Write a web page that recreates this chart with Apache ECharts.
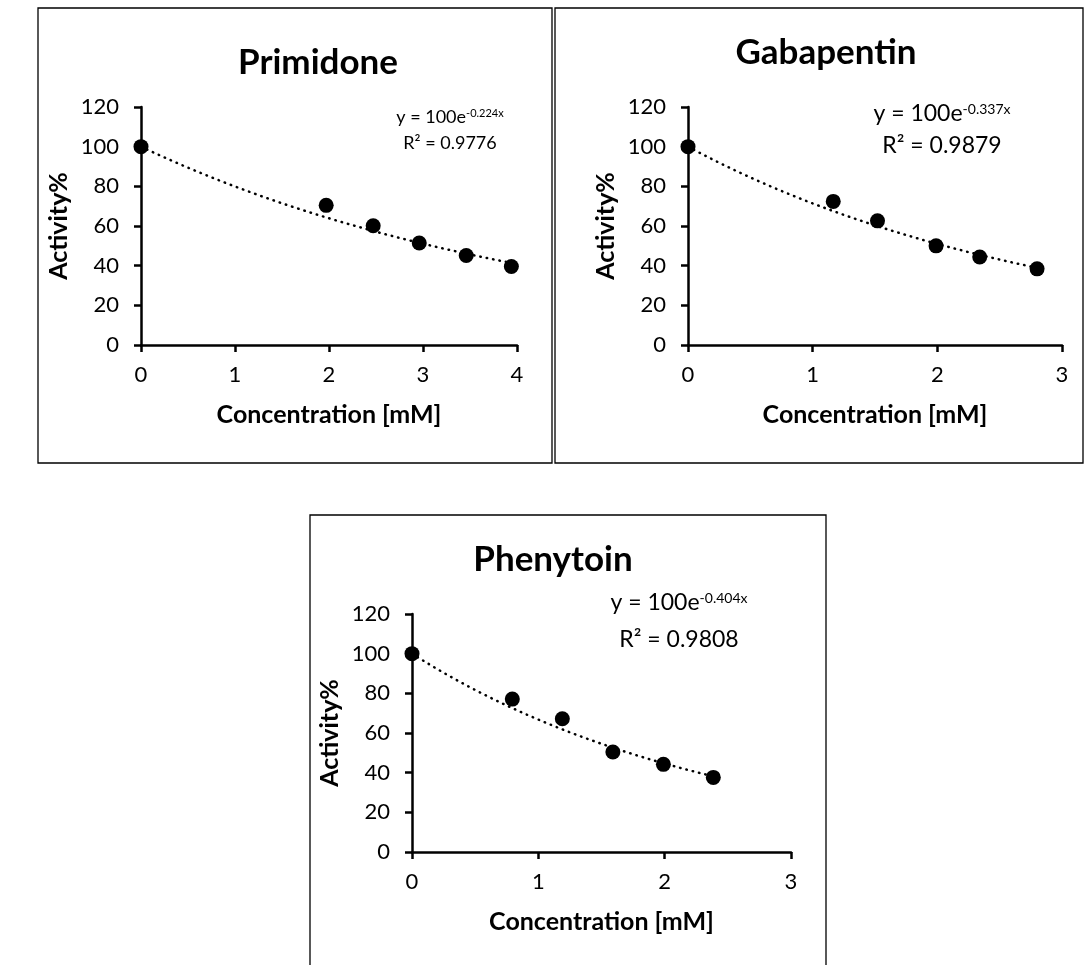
<!DOCTYPE html>
<html>
<head>
<meta charset="utf-8">
<script src="https://cdn.jsdelivr.net/npm/echarts@6/dist/echarts.min.js"></script>
<style>
html,body{margin:0;padding:0;background:#fff;}
#chart{width:1085px;height:965px;}
</style>
</head>
<body>
<div id="chart"></div>
<script>
// ---- data ----
const drugNames = ['Primidone', 'Gabapentin', 'Phenytoin'];
const primidoneConc = [0, 1.97, 2.47, 2.96, 3.46, 3.94];
const primidoneAct = [100, 70.4, 60.1, 51.4, 45.1, 39.6];
const gabapentinConc = [0, 1.165, 1.52, 1.99, 2.34, 2.80];
const gabapentinAct = [100, 72.4, 62.6, 50.0, 44.4, 38.4];
const phenytoinConc = [0, 0.794, 1.19, 1.59, 1.99, 2.385];
const phenytoinAct = [100, 77.1, 67.2, 50.4, 44.2, 37.6];
const trendA = [100, 100, 100];
const trendK = [0.224, 0.337, 0.404];
const trendR2 = ['0.9776', '0.9879', '0.9808'];
const xMaxes = [4, 3, 3];
const yTicks = [0, 20, 40, 60, 80, 100, 120];

const FONT = 'Lato';
const concs = [primidoneConc, gabapentinConc, phenytoinConc];
const acts = [primidoneAct, gabapentinAct, phenytoinAct];

// layout (pixels)
const grids = [
  {left: 141, top: 107, width: 376, height: 238},
  {left: 688, top: 107, width: 374, height: 238},
  {left: 412, top: 614, width: 379, height: 238}
];
const titlePos = [[318, 63], [826, 53], [553, 560]];
const eqPos = [[450, 117, 143, 18], [942, 114, 146, 23], [679, 603, 640, 23]];
const boxes = [[38, 8, 514, 455], [555, 8, 528, 455], [310, 515, 516, 460]];

const chart = echarts.init(document.getElementById('chart'), null, {renderer: 'canvas'});

const gridArr = [], xAxes = [], yAxes = [], series = [], graphics = [];
for (let i = 0; i < 3; i++) {
  gridArr.push(Object.assign({containLabel: false}, grids[i]));
  xAxes.push({
    type: 'value', gridIndex: i, min: 0, max: xMaxes[i], interval: 1,
    axisLine: {show: true, onZero: false, lineStyle: {color: '#000', width: 2.5}},
    axisTick: {show: true, length: 7, lineStyle: {color: '#000', width: 2.5}},
    splitLine: {show: false},
    axisLabel: {fontSize: 22, color: '#000', margin: 19, fontFamily: FONT},
    name: 'Concentration [mM]', nameLocation: 'middle', nameGap: 57,
    nameTextStyle: {fontSize: 25, fontWeight: 'bold', color: '#000', fontFamily: FONT}
  });
  yAxes.push({
    type: 'value', gridIndex: i, min: yTicks[0], max: yTicks[yTicks.length - 1], interval: 20,
    axisLine: {show: true, onZero: false, lineStyle: {color: '#000', width: 2.5}},
    axisTick: {show: true, length: 7, lineStyle: {color: '#000', width: 2.5}},
    splitLine: {show: false},
    axisLabel: {fontSize: 22, color: '#000', margin: 22, fontFamily: FONT},
    name: 'Activity%', nameLocation: 'middle', nameGap: 70,
    nameTextStyle: {fontSize: 25, fontWeight: 'bold', color: '#000', fontFamily: FONT}
  });
  // trendline from the displayed fitted equation y = A e^(-k x)
  const xs = concs[i];
  const xEnd = xs[xs.length - 1];
  const trend = [];
  const n = 60;
  for (let j = 0; j <= n; j++) {
    const x = xEnd * j / n;
    trend.push([x, trendA[i] * Math.exp(-trendK[i] * x)]);
  }
  series.push({
    type: 'line', xAxisIndex: i, yAxisIndex: i, data: trend, showSymbol: false, symbol: 'none',
    silent: true, z: 1,
    lineStyle: {color: '#000', width: 2.5, type: [0.5, 6], cap: 'round'}
  });
  series.push({
    type: 'scatter', xAxisIndex: i, yAxisIndex: i, z: 3,
    data: xs.map((x, j) => [x, acts[i][j]]),
    symbol: 'circle', symbolSize: 15,
    itemStyle: {color: '#000', opacity: 1}
  });
  // panel border
  graphics.push({
    type: 'rect', shape: {x: boxes[i][0], y: boxes[i][1], width: boxes[i][2], height: boxes[i][3]},
    style: {fill: 'none', stroke: '#000', lineWidth: 1.3}, z: 0
  });
  // title
  graphics.push({
    type: 'text', x: titlePos[i][0], y: titlePos[i][1],
    style: {text: drugNames[i], fill: '#000', font: 'bold 35px ' + FONT, align: 'center', verticalAlign: 'middle'}
  });
  // equation
  const fs = eqPos[i][3];
  graphics.push({
    type: 'text', x: eqPos[i][0], y: eqPos[i][1],
    style: {
      text: '{m|y = ' + trendA[i] + 'e}{s|-' + trendK[i].toFixed(3) + 'x}',
      align: 'center', verticalAlign: 'middle',
      rich: {
        m: {fontSize: fs, fontFamily: FONT, fill: '#000', color: '#000', verticalAlign: 'bottom'},
        s: {fontSize: Math.round(fs * 0.62), fontFamily: FONT, fill: '#000', color: '#000', verticalAlign: 'top'}
      }
    }
  });
  graphics.push({
    type: 'text', x: eqPos[i][0], y: eqPos[i][2],
    style: {text: 'R² = ' + trendR2[i], fill: '#000', font: fs + 'px ' + FONT, align: 'center', verticalAlign: 'middle'}
  });
}

chart.setOption({
  animation: false,
  backgroundColor: '#fff',
  grid: gridArr,
  xAxis: xAxes,
  yAxis: yAxes,
  series: series,
  graphic: graphics
});
</script>
</body>
</html>
